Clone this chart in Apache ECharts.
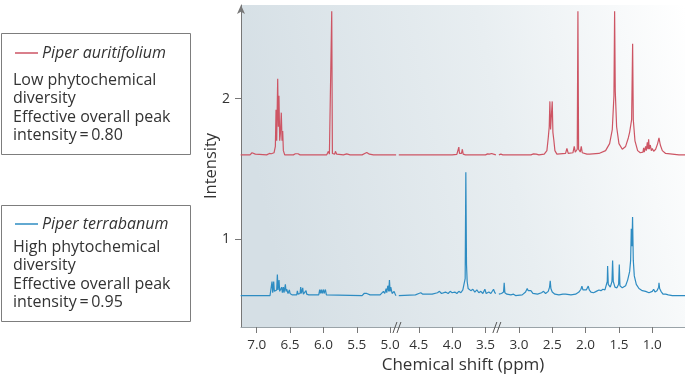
<!DOCTYPE html>
<html>
<head>
<meta charset="utf-8">
<script src="https://cdn.jsdelivr.net/npm/echarts@6/dist/echarts.min.js"></script>
<style>
html,body{margin:0;padding:0;background:#fff;}
#c{width:685px;height:376px;}
</style>
</head>
<body>
<div id="c"></div>
<script>
// ---- Data (chemical shift in ppm, intensity) ----
const xTicksPpm = [7.0, 6.5, 6.0, 5.5, 5.0, 4.5, 4.0, 3.5, 3.0, 2.5, 2.0, 1.5, 1.0];
const yTicks = [1, 2];

// Piper auritifolium (red), three segments separated by removed solvent regions
const auriSeg1 = [[7.24,1.60],[7.10,1.60],[7.07,1.615],[7.05,1.618],[7.02,1.605],[6.85,1.60],[6.81,1.61],[6.78,1.608],[6.74,1.615],[6.72,1.66],[6.71,1.92],[6.70,1.70],[6.685,2.14],[6.675,1.80],[6.666,2.02],[6.655,1.70],[6.645,1.75],[6.631,1.90],[6.62,1.70],[6.61,1.77],[6.60,1.63],[6.58,1.60],[6.45,1.60],[6.42,1.608],[6.38,1.608],[6.35,1.60],[6.12,1.60],[6.10,1.607],[6.08,1.60],[5.95,1.60],[5.925,1.625],[5.91,1.605],[5.885,1.61],[5.875,2.62],[5.865,1.61],[5.83,1.605],[5.82,1.625],[5.80,1.605],[5.70,1.60],[5.65,1.607],[5.60,1.60],[5.42,1.60],[5.38,1.61],[5.35,1.617],[5.31,1.605],[5.25,1.60],[4.91,1.60]];
const auriSeg2 = [[4.80,1.60],[4.0,1.60],[3.93,1.603],[3.91,1.61],[3.90,1.655],[3.89,1.61],[3.86,1.61],[3.847,1.64],[3.835,1.605],[3.80,1.60],[3.50,1.60],[3.47,1.607],[3.44,1.605],[3.41,1.61],[3.38,1.605],[3.345,1.60]];
const auriSeg3 = [[3.30,1.60],[3.27,1.605],[3.24,1.60],[2.82,1.60],[2.78,1.607],[2.74,1.605],[2.70,1.60],[2.62,1.605],[2.58,1.63],[2.56,1.72],[2.545,1.80],[2.535,1.98],[2.525,1.78],[2.515,1.77],[2.50,1.98],[2.49,1.76],[2.475,1.70],[2.46,1.63],[2.43,1.605],[2.30,1.61],[2.28,1.645],[2.26,1.61],[2.19,1.615],[2.17,1.66],[2.155,1.62],[2.125,1.64],[2.115,2.62],[2.105,1.64],[2.08,1.62],[2.065,1.66],[2.05,1.615],[1.98,1.605],[1.96,1.61],[1.94,1.605],[1.80,1.61],[1.70,1.63],[1.64,1.68],[1.60,1.78],[1.575,2.02],[1.565,2.62],[1.555,2.05],[1.535,1.80],[1.50,1.68],[1.45,1.64],[1.40,1.66],[1.36,1.72],[1.34,1.76],[1.31,1.85],[1.295,2.39],[1.285,1.85],[1.26,1.70],[1.22,1.63],[1.18,1.615],[1.14,1.62],[1.13,1.65],[1.12,1.62],[1.10,1.66],[1.09,1.63],[1.075,1.69],[1.065,1.64],[1.055,1.71],[1.045,1.64],[1.03,1.67],[1.015,1.63],[1.0,1.645],[0.98,1.625],[0.95,1.64],[0.92,1.68],[0.90,1.72],[0.88,1.67],[0.85,1.63],[0.80,1.61],[0.70,1.605],[0.60,1.60],[0.51,1.60]];

// Piper terrabanum (blue)
const terrSeg1 = [[7.24,0.60],[6.80,0.60],[6.78,0.61],[6.77,0.70],[6.76,0.62],[6.745,0.70],[6.735,0.63],[6.70,0.64],[6.69,0.75],[6.68,0.64],[6.665,0.71],[6.655,0.63],[6.64,0.64],[6.625,0.66],[6.615,0.62],[6.60,0.66],[6.59,0.62],[6.57,0.68],[6.56,0.63],[6.55,0.645],[6.53,0.615],[6.51,0.64],[6.50,0.615],[6.49,0.625],[6.47,0.605],[6.40,0.605],[6.39,0.633],[6.38,0.61],[6.35,0.615],[6.34,0.66],[6.33,0.615],[6.31,0.655],[6.30,0.61],[6.26,0.635],[6.25,0.61],[6.24,0.62],[6.22,0.605],[6.07,0.605],[6.055,0.643],[6.045,0.615],[6.03,0.643],[6.02,0.615],[6.00,0.643],[5.99,0.615],[5.97,0.643],[5.955,0.605],[5.42,0.60],[5.39,0.615],[5.37,0.625],[5.35,0.615],[5.33,0.625],[5.30,0.605],[5.15,0.605],[5.10,0.63],[5.08,0.615],[5.06,0.65],[5.05,0.62],[5.035,0.67],[5.02,0.63],[5.01,0.71],[5.0,0.63],[4.99,0.66],[4.97,0.615],[4.94,0.63],[4.92,0.605],[4.91,0.60]];
const terrSeg2 = [[4.80,0.60],[4.55,0.605],[4.50,0.615],[4.47,0.62],[4.44,0.61],[4.30,0.61],[4.22,0.62],[4.19,0.63],[4.16,0.615],[4.10,0.625],[4.06,0.615],[4.03,0.63],[4.0,0.62],[3.96,0.625],[3.93,0.615],[3.90,0.63],[3.87,0.62],[3.84,0.64],[3.82,0.65],[3.805,0.72],[3.795,1.477],[3.785,0.82],[3.775,0.70],[3.76,0.65],[3.74,0.655],[3.72,0.635],[3.69,0.645],[3.66,0.625],[3.63,0.64],[3.60,0.62],[3.57,0.63],[3.54,0.615],[3.51,0.645],[3.49,0.615],[3.45,0.625],[3.42,0.615],[3.38,0.645],[3.36,0.62],[3.345,0.615]];
const terrSeg3 = [[3.30,0.61],[3.26,0.615],[3.23,0.625],[3.22,0.69],[3.21,0.62],[3.18,0.61],[3.12,0.605],[3.08,0.61],[3.05,0.60],[2.95,0.605],[2.90,0.625],[2.875,0.65],[2.86,0.635],[2.84,0.645],[2.82,0.635],[2.79,0.615],[2.72,0.61],[2.66,0.62],[2.63,0.63],[2.60,0.615],[2.56,0.63],[2.54,0.66],[2.53,0.705],[2.52,0.65],[2.50,0.625],[2.46,0.61],[2.40,0.605],[2.34,0.61],[2.32,0.618],[2.30,0.61],[2.22,0.605],[2.15,0.61],[2.10,0.625],[2.07,0.645],[2.055,0.667],[2.04,0.64],[2.02,0.63],[1.99,0.64],[1.96,0.667],[1.945,0.64],[1.92,0.625],[1.88,0.62],[1.84,0.63],[1.80,0.64],[1.77,0.635],[1.74,0.645],[1.71,0.64],[1.69,0.65],[1.675,0.70],[1.67,0.81],[1.66,0.68],[1.63,0.66],[1.605,0.70],[1.595,0.85],[1.585,0.70],[1.56,0.66],[1.53,0.655],[1.505,0.68],[1.495,0.82],[1.485,0.67],[1.45,0.655],[1.40,0.67],[1.37,0.71],[1.34,0.77],[1.325,0.85],[1.315,1.075],[1.305,0.95],[1.296,1.158],[1.285,0.85],[1.27,0.74],[1.24,0.68],[1.20,0.65],[1.15,0.635],[1.10,0.63],[1.05,0.62],[1.00,0.63],[0.98,0.645],[0.96,0.625],[0.93,0.635],[0.905,0.66],[0.90,0.69],[0.89,0.65],[0.87,0.63],[0.855,0.63],[0.84,0.61],[0.80,0.61],[0.76,0.605],[0.70,0.60],[0.60,0.60],[0.51,0.60]];

const legendAuri = ['Piper auritifolium', 'Low phytochemical', 'diversity', 'Effective overall peak', 'intensity\u2009=\u20090.80'];
const legendTerr = ['Piper terrabanum', 'High phytochemical', 'diversity', 'Effective overall peak', 'intensity\u2009=\u20090.95'];

// ---- Axis break transform (first break compresses 0.07 ppm) ----
const BREAK1 = 4.90, SHIFT = 0.07;
const toD = p => (p < BREAK1 ? p + SHIFT : p);
const toPpm = d => (d < BREAK1 + 0.04 ? d - SHIFT : d);
const conv = seg => seg.map(([p, v]) => [toD(p), v]);

const RED = '#cd5564', BLUE = '#2e8cc2';
const FONT = '"Open Sans", "DejaVu Sans", sans-serif';

const chart = echarts.init(document.getElementById('c'), null, {renderer: 'canvas'});

function seriesOf(seg, color) {
  return {type: 'line', data: conv(seg), showSymbol: false, symbol: 'none', smooth: false,
          lineStyle: {color: color, width: 1.2}, silent: true, z: 3};
}

const option = {
  animation: false,
  backgroundColor: '#ffffff',
  textStyle: {fontFamily: FONT},
  grid: {left: 241, right: 0, top: 5, bottom: 49, show: true, borderWidth: 0,
    containLabel: false, outerBoundsMode: 'none',
    backgroundColor: new echarts.graphic.LinearGradient(0, 0.3, 1, 0, [
      {offset: 0, color: '#d5dfe5'}, {offset: 0.55, color: '#e8eef1'}, {offset: 1, color: '#ffffff'}])},
  xAxis: {
    type: 'value', inverse: true, min: 0.58, max: 7.235,
    name: 'Chemical shift (ppm)', nameLocation: 'middle', nameGap: 29,
    nameTextStyle: {fontSize: 17, color: '#333', fontFamily: FONT},
    axisLine: {show: true, lineStyle: {color: '#9aa3a8', width: 1}},
    axisTick: {show: true, length: 6, lineStyle: {color: '#777'}, customValues: xTicksPpm.map(toD)},
    axisLabel: {customValues: xTicksPpm.map(toD), formatter: v => toPpm(v).toFixed(1),
                fontSize: 13.5, color: '#333', margin: 11, fontFamily: FONT},
    splitLine: {show: false}
  },
  yAxis: {
    type: 'value', min: 0.3767, max: 2.665,
    name: 'Intensity', nameLocation: 'middle', nameGap: 21, nameRotate: 90, nameMoveOverlap: false,
    nameTextStyle: {fontSize: 16.5, color: '#333', fontFamily: FONT},
    axisLine: {show: true, symbol: ['none', 'arrow'], symbolSize: [6, 9], lineStyle: {color: '#777', width: 1}},
    axisTick: {show: true, length: 6, lineStyle: {color: '#777'}, customValues: yTicks},
    axisLabel: {customValues: yTicks, fontSize: 14, color: '#333', margin: 11, fontFamily: FONT},
    splitLine: {show: false}
  },
  series: [
    seriesOf(auriSeg1, RED), seriesOf(auriSeg2, RED), seriesOf(auriSeg3, RED),
    seriesOf(terrSeg1, BLUE), seriesOf(terrSeg2, BLUE), seriesOf(terrSeg3, BLUE)
  ]
};
chart.setOption(option);

// ---- Decorations: legend boxes and axis-break marks ----
function legendBox(lines, color, top, bottom, titleY, firstY) {
  const els = [];
  els.push({type: 'rect', shape: {x: 1.5, y: top + 0.5, width: 189, height: bottom - top},
            style: {fill: '#fff', stroke: '#7d7d7d', lineWidth: 1}});
  els.push({type: 'line', shape: {x1: 15, y1: titleY, x2: 38, y2: titleY}, style: {stroke: color, lineWidth: 1.5}});
  els.push({type: 'text', x: 42, y: titleY, style: {text: lines[0], fill: '#333', fontSize: 16,
            fontStyle: 'italic', fontFamily: FONT, verticalAlign: 'middle', align: 'left'}});
  for (let i = 1; i < lines.length; i++) {
    els.push({type: 'text', x: 13, y: firstY + (i - 1) * 18.6, style: {text: lines[i], fill: '#333',
              fontSize: 16, fontFamily: FONT, verticalAlign: 'middle', align: 'left'}});
  }
  return els;
}

const axisY = chart.convertToPixel({yAxisIndex: 0}, 0.3767);
const breakDs = [(toD(auriSeg1[auriSeg1.length - 1][0]) + toD(auriSeg2[0][0])) / 2,
                 (toD(auriSeg2[auriSeg2.length - 1][0]) + toD(auriSeg3[0][0])) / 2];
const breakEls = [];
breakDs.forEach(d => {
  const cx = chart.convertToPixel({xAxisIndex: 0}, d);
  breakEls.push({type: 'line', shape: {x1: cx - 4.5, y1: axisY + 6, x2: cx - 0.5, y2: axisY - 5}, style: {stroke: '#555', lineWidth: 1}, z: 10});
  breakEls.push({type: 'line', shape: {x1: cx - 0.5, y1: axisY + 6, x2: cx + 3.5, y2: axisY - 5}, style: {stroke: '#555', lineWidth: 1}, z: 10});
});

chart.setOption({
  graphic: [].concat(
    legendBox(legendAuri, RED, 33, 154, 53, 80),
    legendBox(legendTerr, BLUE, 205, 321, 224, 247),
    breakEls
  )
});
</script>
</body>
</html>
